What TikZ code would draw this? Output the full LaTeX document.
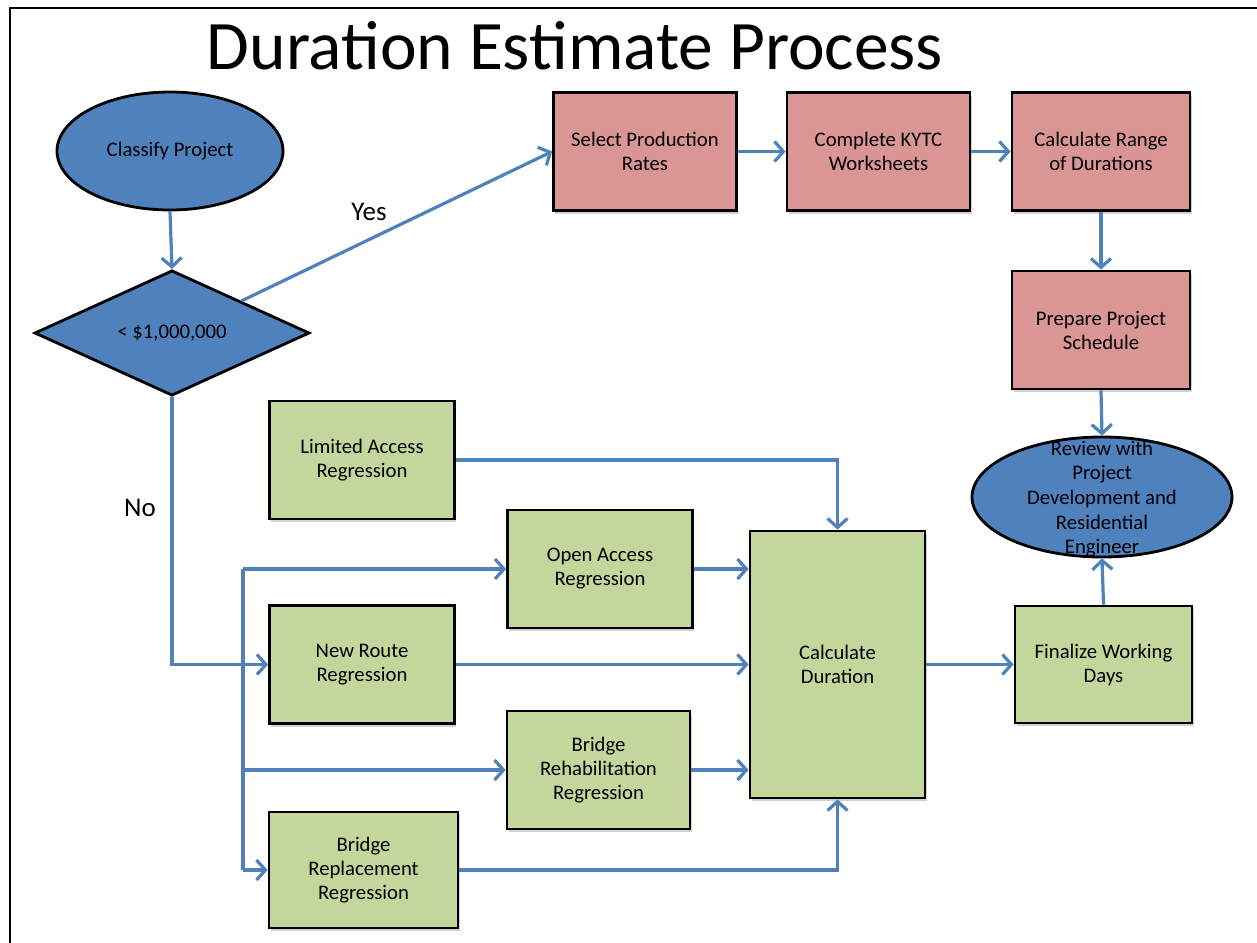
\documentclass[tikz,border=0pt]{standalone}
\usepackage{fontspec}
\setmainfont{Carlito}
\usetikzlibrary{arrows.meta,shapes.geometric,shadows,calc}
\definecolor{obl}{HTML}{4F81BD}
\definecolor{opink}{HTML}{D99694}
\definecolor{ogreen}{HTML}{C3D69B}
\tikzset{
  base/.style={draw=black,line width=2.8pt,align=center,font=\fontsize{20.7}{24}\selectfont,inner sep=2pt},
  pinkbox/.style={base,fill=opink,minimum width=183pt,minimum height=118pt,drop shadow={shadow xshift=1.5pt,shadow yshift=-3pt,opacity=0.35}},
  greenbox/.style={base,fill=ogreen,minimum width=185pt,minimum height=118pt,drop shadow={shadow xshift=1.5pt,shadow yshift=-3pt,opacity=0.35}},
  blueshape/.style={base,fill=obl},
  arr/.style={draw=obl,line width=3.2pt,-{Straight Barb[length=9pt,width=20pt,line width=3.2pt]}},
  ln/.style={draw=obl,line width=3.2pt},
  lbl/.style={font=\fontsize{27}{30}\selectfont}
}
\begin{document}
\begin{tikzpicture}[x=1pt,y=-1pt]
\useasboundingbox (0,0) rectangle (1257,942);
\fill[white] (0,0) rectangle (1257,942);
\draw[line width=2pt] (10,960) -- (10,8) -- (1270,8);
\node[font=\fontsize{69.5}{75}\selectfont] (title) at (575,46) {Duration Estimate Process};

% blue shapes
\node[blueshape,ellipse,minimum width=226pt,minimum height=118pt] (cls) at (170,151) {Classify Project};
\node[blueshape,diamond,minimum width=275pt,minimum height=121pt,inner sep=0pt] (dia) at (172,333) {< \$1,000,000};
\node[blueshape,ellipse,minimum width=260pt,minimum height=120pt] (rev) at (1102,497) {};
\node[align=center,font=\fontsize{20.7}{24.7}\selectfont] (revt) at (1102,499) {Review with\\Project\\Development and\\Residential\\Engineer};

% pink boxes
\node[pinkbox] (sel) at (645,151.5) {Select Production\\Rates};
\node[pinkbox] (kytc) at (878.5,151.5) {Complete KYTC\\Worksheets};
\node[pinkbox,minimum width=178pt] (rng) at (1101,151.5) {Calculate Range\\of Durations};
\node[pinkbox,minimum width=178pt] (sch) at (1101,330) {Prepare Project\\Schedule};

% green boxes
\node[greenbox] (la) at (362,460) {Limited Access\\Regression};
\node[greenbox] (oa) at (600,569) {Open Access\\Regression};
\node[greenbox] (nr) at (362,664.5) {New Route\\Regression};
\node[greenbox,minimum width=183pt] (bh) at (598.5,770) {Bridge\\Rehabilitation\\Regression};
\node[greenbox,minimum width=189pt,minimum height=116pt] (br) at (363.5,870) {Bridge\\Replacement\\Regression};
\node[greenbox,minimum width=175pt,minimum height=267pt] (cd) at (837.5,664.5) {Calculate\\Duration};
\node[greenbox,minimum width=177pt,minimum height=117pt] (fw) at (1103.5,664.5) {Finalize Working\\Days};

% connectors
\draw[arr] (cls.south) -- (dia.north);
\coordinate (ys) at ($(dia.north)!0.5!(dia.east)$);
\draw[arr] (ys) -- (sel.west);
\node[lbl] (yes) at (369,212) {Yes};
\node[lbl] (no) at (140,508) {No};
\draw[arr] (sel.east) -- (kytc.west);
\draw[arr] (kytc.east) -- (rng.west);
\draw[arr] (rng.south) -- (sch.north);
\draw[arr] (sch.south) -- (rev.north);
\draw[arr] (fw.north) -- (rev.south);
\draw[arr] (cd.east) -- (fw.west);

\draw[arr] (dia.south) |- (nr.west);
\coordinate (tk) at (243,665);
\draw[ln] (tk |- oa.west) -- (tk |- br.west);
\draw[arr] (tk |- oa.west) -- (oa.west);
\draw[arr] (tk |- bh.west) -- (bh.west);
\draw[arr] (tk |- br.west) -- (br.west);

\draw[arr] (la.east) -| (cd.north);
\draw[arr] (br.east) -| (cd.south);
\draw[arr] (oa.east) -- (oa.east -| cd.west);
\draw[arr] (nr.east) -- (nr.east -| cd.west);
\draw[arr] (bh.east) -- (bh.east -| cd.west);
\end{tikzpicture}
\end{document}
